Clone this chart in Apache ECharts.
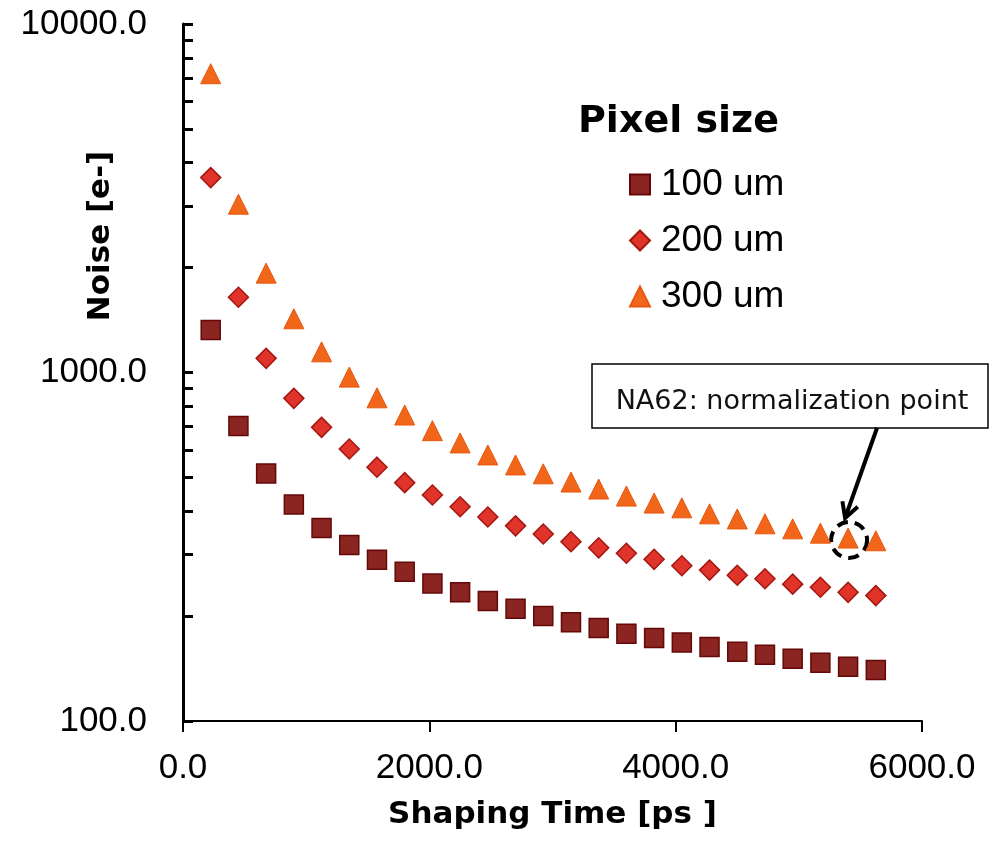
<!DOCTYPE html>
<html>
<head>
<meta charset="utf-8">
<script src="https://cdn.jsdelivr.net/npm/echarts@6/dist/echarts.min.js"></script>
<style>
  html, body { margin: 0; padding: 0; background: #fff; }
  #chart { width: 990px; height: 846px; }
</style>
</head>
<body>
<div id="chart"></div>
<script>
// shaping time [ps]
var shapingTime = [225, 450, 675, 900, 1125, 1350, 1575, 1800, 2025, 2250, 2475, 2700, 2925,
	3150, 3375, 3600, 3825, 4050, 4275, 4500, 4725, 4950, 5175, 5400, 5625];
// noise [e-] per pixel size
var noise100 = [1324, 702, 513, 418, 358, 320, 290, 268, 248, 234, 221, 210, 200,
	192, 185, 178, 173, 168, 163, 158, 155, 151, 147, 143, 140];
var noise200 = [3624, 1644, 1098, 843, 696, 603, 535, 483, 445, 412, 385, 363, 344,
	327, 314, 303, 291, 279, 271, 262, 256, 247, 242, 234, 229];
var noise300 = [7200, 3040, 1928, 1426, 1146, 970, 846, 755, 681, 628, 580, 543, 512,
	485, 463, 442, 422, 409, 393, 380, 368, 356, 346, 335, 329];
var seriesNames = ['100 um', '200 um', '300 um'];
var yTickValues = [100, 200, 300, 400, 500, 600, 700, 800, 900,
	1000, 2000, 3000, 4000, 5000, 6000, 7000, 8000, 9000, 10000];
// NA62 normalization point (300 um series)
var normPoint = [5400, 335];

function pairs(ys) {
	var out = [];
	for (var i = 0; i < shapingTime.length; i++) {
		out.push([shapingTime[i], ys[i]]);
	}
	return out;
}

var myChart = echarts.init(document.getElementById('chart'));

var option = {
	animation: false,
	backgroundColor: '#fff',
	title: {
		text: 'Pixel size',
		left: 573,
		top: 98,
		textStyle: { fontFamily: 'DejaVu Sans', fontWeight: 'bold', fontSize: 38, color: '#000' }
	},
	legend: {
		orient: 'vertical',
		left: 624,
		top: 161,
		itemWidth: 20,
		itemHeight: 20,
		itemGap: 19,
		data: seriesNames,
		textStyle: {
			fontFamily: 'Liberation Sans', fontSize: 37, color: '#000',
			padding: [0, 0, 0, 6]
		}
	},
	grid: { left: 183, right: 68, top: 24, bottom: 125 },
	xAxis: {
		type: 'value',
		min: 0,
		max: 6000,
		interval: 2000,
		name: 'Shaping Time [ps ]',
		nameLocation: 'middle',
		nameGap: 78,
		nameTextStyle: { fontFamily: 'DejaVu Sans', fontWeight: 'bold', fontSize: 31, color: '#000' },
		axisLine: { lineStyle: { color: '#000', width: 2 } },
		axisTick: { inside: false, length: 11, lineStyle: { color: '#000', width: 2 } },
		axisLabel: {
			margin: 30,
			fontFamily: 'Liberation Sans', fontSize: 35, color: '#000',
			formatter: function (v) { return v.toFixed(1); }
		},
		splitLine: { show: false }
	},
	yAxis: {
		type: 'log',
		logBase: 10,
		min: 100,
		max: 10000,
		axisLine: { lineStyle: { color: '#000', width: 3 } },
		axisTick: {
			inside: true, length: 10,
			customValues: yTickValues,
			lineStyle: { color: '#000', width: 3 }
		},
		axisLabel: {
			margin: 36,
			fontFamily: 'Liberation Sans', fontSize: 35, color: '#000',
			formatter: function (v) { return v.toFixed(1); }
		},
		splitLine: { show: false }
	},
	series: [
		{
			name: seriesNames[0],
			type: 'scatter',
			symbol: 'rect',
			symbolSize: 19,
			data: pairs(noise100),
			itemStyle: { color: '#8A2522', borderColor: '#640808', borderWidth: 1.5, opacity: 1 }
		},
		{
			name: seriesNames[1],
			type: 'scatter',
			symbol: 'diamond',
			symbolSize: 20,
			data: pairs(noise200),
			itemStyle: { color: '#E0332A', borderColor: '#A31812', borderWidth: 1.5, opacity: 1 }
		},
		{
			name: seriesNames[2],
			type: 'scatter',
			symbol: 'triangle',
			symbolSize: 20,
			data: pairs(noise300),
			itemStyle: { color: '#F2661A', borderColor: '#E5580F', borderWidth: 1, opacity: 1 }
		}
	]
};

myChart.setOption(option);

// annotation: box, arrow and dashed circle around the normalization point
var c = myChart.convertToPixel({ seriesIndex: 2 }, normPoint);
var tip = [c[0] - 3, c[1] - 20];
var start = [877, 428];
var ang = Math.atan2(tip[1] - start[1], tip[0] - start[0]);
var head = 17, spread = 0.5;
var h1 = [tip[0] - head * Math.cos(ang - spread), tip[1] - head * Math.sin(ang - spread)];
var h2 = [tip[0] - head * Math.cos(ang + spread), tip[1] - head * Math.sin(ang + spread)];

myChart.setOption({
	graphic: [
		{
			type: 'text',
			x: 101, y: 236,
			rotation: Math.PI / 2,
			style: {
				text: 'Noise [e-]',
				fontFamily: 'DejaVu Sans', fontWeight: 'bold', fontSize: 31,
				fill: '#000', textAlign: 'center', textVerticalAlign: 'middle'
			}
		},
		{
			type: 'rect',
			shape: { x: 592, y: 364, width: 396, height: 64 },
			style: { fill: '#fff', stroke: '#000', lineWidth: 1.5 }
		},
		{
			type: 'text',
			x: 792, y: 402,
			style: {
				text: 'NA62: normalization point',
				fontFamily: 'DejaVu Sans', fontSize: 27, fill: '#111',
				textAlign: 'center', textVerticalAlign: 'middle'
			}
		},
		{
			type: 'line',
			shape: { x1: start[0], y1: start[1], x2: tip[0], y2: tip[1] },
			style: { stroke: '#000', lineWidth: 4 }
		},
		{
			type: 'polyline',
			shape: { points: [h1, tip, h2] },
			style: { stroke: '#000', lineWidth: 4, fill: null }
		},
		{
			type: 'circle',
			shape: { cx: c[0] + 1, cy: c[1] + 2, r: 18 },
			style: { fill: null, stroke: '#000', lineWidth: 4, lineDash: [11, 7] }
		}
	]
});
</script>
</body>
</html>
